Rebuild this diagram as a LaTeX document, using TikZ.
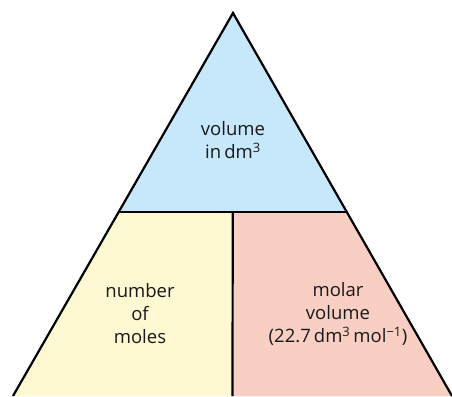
\documentclass[tikz,border=0pt]{standalone}
\usepackage{fontspec}
\setmainfont{Open Sans}
\usepackage{xcolor}
\definecolor{volblue}{RGB}{199,231,250}
\definecolor{molyellow}{RGB}{254,249,211}
\definecolor{molpink}{RGB}{249,207,196}
\usetikzlibrary{calc}

\begin{document}
\begin{tikzpicture}[x=1pt, y=1pt, every node/.style={font=\fontsize{18.5}{23}\selectfont, align=center, text=black!90}]
\useasboundingbox (0,0) rectangle (452,396);
% Corner points
\coordinate (apex) at (233,383);
\coordinate (bl) at (13,0);
\coordinate (br) at (452,0);
\coordinate (ml) at ($(apex)!0.52!(bl)$);
\coordinate (mr) at ($(apex)!0.52!(br)$);
\coordinate (mm) at ($(ml)!0.5!(mr)$);
\coordinate (mb) at ($(bl)!0.5!(br)$);
% Fills
\fill[volblue] (apex) -- (ml) -- (mr) -- cycle;
\fill[molyellow] (ml) -- (mm) -- (mb) -- (bl) -- cycle;
\fill[molpink] (mm) -- (mr) -- (br) -- (mb) -- cycle;
% Outline
\draw[line width=2.2pt, line join=miter] (bl) -- (apex) -- (br);
\draw[line width=2.2pt] (ml) -- (mr);
\draw[line width=2.2pt] (mm) -- (mb);
% Labels
\node (volume) at (233,256) {volume\\in\,dm\textsuperscript{3}};
\node (moles) at (140,82) {number\\of\\moles};
\node (molar) at (338,82) {molar\\volume\\(22.7\,dm\textsuperscript{3}\,mol\textsuperscript{−1})};
\end{tikzpicture}
\end{document}
